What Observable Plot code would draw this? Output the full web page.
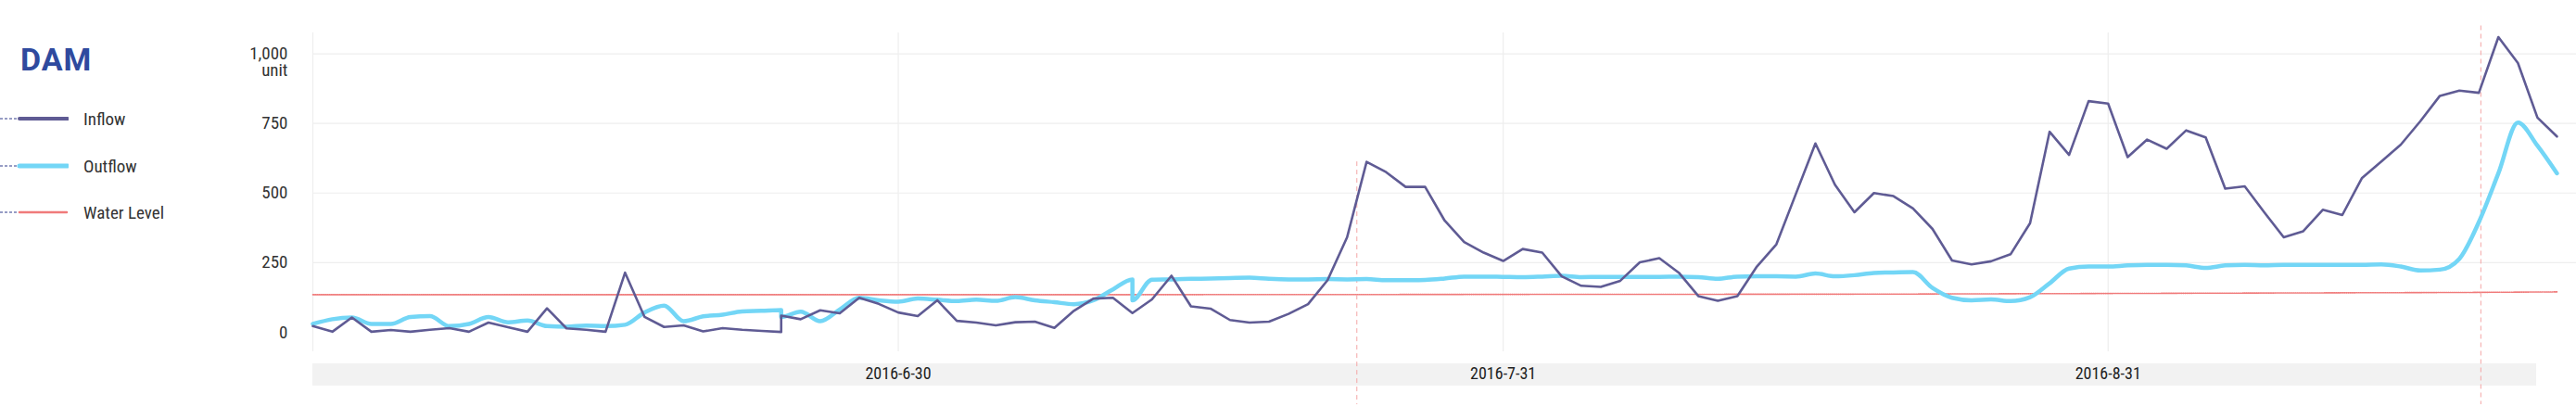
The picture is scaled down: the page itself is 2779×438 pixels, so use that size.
<!DOCTYPE html>
<html><head><meta charset="utf-8">
<script src="https://cdn.jsdelivr.net/npm/d3@7"></script>
<script src="https://cdn.jsdelivr.net/npm/@observablehq/plot@0.6"></script>
<style>
body{margin:0;background:#fff;font-family:"Roboto Condensed","Liberation Sans Narrow","DejaVu Sans Condensed",Roboto,sans-serif;}
#wrap{position:relative;width:2779px;height:438px;overflow:hidden;}
#band{position:absolute;left:337px;top:392px;width:2399px;height:24px;background:#f2f2f2;}
#chart{position:absolute;left:0;top:0;}
#title{position:absolute;left:22px;top:44px;font:bold 34px Roboto,sans-serif;color:#2f4a9e;letter-spacing:1px;}
.item{position:absolute;left:0;height:20px;display:flex;align-items:center;font-size:19px;color:#333;}
.item svg{margin-right:16px;}
</style></head><body>
<div id="wrap"><div id="band"></div><div id="chart"></div><div id="title">DAM</div><div id="legend"></div></div>
<script>
const startDate = new Date(2016, 4, 31);
const inflowDays = [...d3.range(0, 25), 24, ...d3.range(25, 116)];
const inflow = [22,2,53,2,8,2,9,15,2,35,18,2,86,14,9,2,214,55,
 19,25,3,15,9,5,1,60,
 47,79,68,124,102,71,58,115,41,35,25,36,38,16,77,121,124,69,118,203,93,85,44,35,38,66,101,187,341,612,575,522,522,401,324,286,256,299,286,201,
 167,163,185,251,266,214,130,113,130,236,316,497,678,530,431,500,489,445,371,258,244,255,280,392,720,637,830,821,629,692,659,725,700,516,524,431,341,363,440,421,553,613,674,758,849,868,860,1060,967,771,703];
const outflowDays = [...d3.range(0, 25), 24, ...d3.range(25, 43), 42, ...d3.range(43, 116)];
const outflow = [30,47,53,30,30,55,58,22,30,55,36,42,22,20,24,22,27,71,
 96,40,57,63,75,77,80,55,
 74,40,82,124,115,110,121,117,112,117,113,126,115,108,101,115,154,190,115,
 189,190,192,193,195,196,192,190,190,191,190,191,187,187,188,193,200,200,199,198,200,203,
 198,199,199,199,199,200,198,192,200,201,201,200,211,201,205,213,215,216,
 159,124,115,118,112,126,176,229,236,236,240,242,242,240,231,240,242,240,242,242,242,242,242,244,236,222,225,264,396,571,753,670,571];
const levelDays = [0, 40, 80, 95, 110, 115];
const levelValues = [135, 135, 137, 140, 143, 145];
const markerDays = [53.5, 111.1];
const markerTops = [612, 1100];
const tickDates = ["2016-06-30", "2016-07-31", "2016-08-31"];
const tickLabels = ["2016-6-30", "2016-7-31", "2016-8-31"];
const yTicks = [0, 250, 500, 750, 1000];

const day = d => new Date(startDate.getTime() + d * 864e5);
const inData = inflowDays.map((d, i) => ({date: day(d), v: inflow[i]}));
const outData = outflowDays.map((d, i) => ({date: day(d), v: outflow[i]}));
const lvData = levelDays.map((d, i) => ({date: day(d), v: levelValues[i]}));
const mkData = markerDays.map((d, i) => ({date: day(d), top: markerTops[i]}));
const ticks = tickDates.map(s => d3.timeParse("%Y-%m-%d")(s));
const grids = [startDate, ...ticks];

const chart = Plot.plot({
  width: 2779, height: 438,
  marginLeft: 337, marginRight: 0, marginTop: 35, marginBottom: 59,
  style: {fontFamily: "'Roboto Condensed','Liberation Sans Narrow','DejaVu Sans Condensed',Roboto,sans-serif", background: "transparent", color: "#333"},
  x: {type: "time", domain: [day(0), day(116)]},
  y: {domain: [-70, 1075]},
  marks: [
    Plot.ruleY(yTicks.slice(1), {stroke: "#eeeeee", strokeWidth: 1.2}),
    Plot.ruleX(grids, {y1: -70, y2: 1075, stroke: "#eeeeee", strokeWidth: 1.2}),
    Plot.line(lvData, {x: "date", y: "v", stroke: "#f07a7a", strokeWidth: 1.6, strokeDasharray: "1 1.2"}),
    Plot.ruleX(mkData, {x: "date", y1: "top", y2: -260, stroke: "#f4a6a6", strokeWidth: 1, strokeDasharray: "5 4", clip: false}),
    Plot.line(outData, {x: "date", y: "v", stroke: "#73d6f6", strokeWidth: 4.5, curve: "monotone-x", strokeLinejoin: "round"}),
    Plot.line(inData, {x: "date", y: "v", stroke: "#5f5b94", strokeWidth: 2.6, strokeLinejoin: "round"}),
    Plot.axisY(yTicks, {tickSize: 0, tickPadding: 27, fontSize: 19, fill: "#333"}),
    Plot.text([1000], {x: day(0), y: d => d, text: () => "unit", dx: -27, dy: 18, textAnchor: "end", fontSize: 19, fill: "#333", clip: false}),
    Plot.axisX(ticks, {tickSize: 0, tickPadding: 17, fontSize: 18, fill: "#222", tickFormat: (d, i) => tickLabels[i]})
  ]
});
document.getElementById("chart").appendChild(chart);

const legendItems = [
  {label: "Inflow", color: "#5f5b94", w: 4, dash: null, top: 118},
  {label: "Outflow", color: "#73d6f6", w: 5, dash: null, top: 169},
  {label: "Water Level", color: "#f07a7a", w: 2.5, dash: "1 1", top: 219}
];
const lg = document.getElementById("legend");
legendItems.forEach(it => {
  const div = document.createElement("div");
  div.className = "item"; div.style.top = it.top + "px";
  div.innerHTML = `<svg width="74" height="20"><line x1="0" x2="18" y1="10" y2="10" stroke="#2f3a8a" stroke-width="1" stroke-dasharray="3 2"/><line x1="21" x2="73" y1="10" y2="10" stroke="${it.color}" stroke-width="${it.w}" stroke-linecap="round" ${it.dash ? `stroke-dasharray="${it.dash}"` : ""}/></svg><span style="margin-left:0px">${it.label}</span>`;
  div.querySelector("svg").style.marginRight = "16px";
  lg.appendChild(div);
});
</script></body></html>
